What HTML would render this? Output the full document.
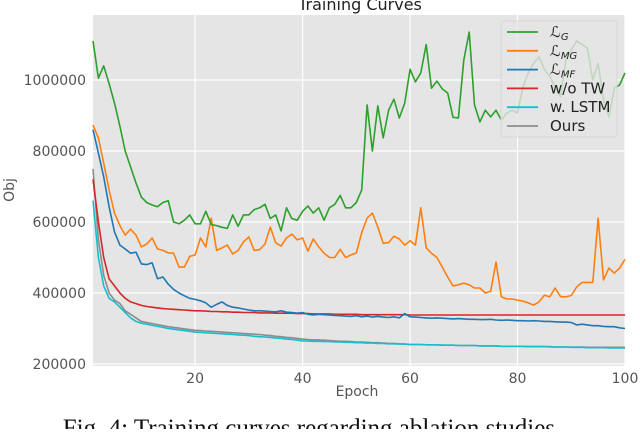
<!DOCTYPE html>
<html><head><meta charset="utf-8"><style>
body{margin:0;background:#fff;width:640px;height:429px;overflow:hidden}
svg text{font-family:"DejaVu Sans","Liberation Sans",sans-serif}
</style></head><body>
<svg id="chart" width="640" height="429">
<rect x="93" y="15" width="532" height="351" fill="#e5e5e5"/>
<g id="grid"></g><g id="series"></g><g id="axes"></g>
<text x="360" y="10" text-anchor="middle" font-size="16" fill="#222">Training Curves</text>
<text x="357" y="396" text-anchor="middle" font-size="14" fill="#555">Epoch</text>
<text x="14" y="190" text-anchor="middle" font-size="14" fill="#555" transform="rotate(-90 14 190)">Obj</text>
<text x="312" y="436" text-anchor="middle" font-size="25" fill="#111" style="font-family:'Liberation Serif',serif">Fig. 4: Training curves regarding ablation studies.</text>
<g id="legend"></g>
</svg>
<script>
const xTicks=[20,40,60,80,100];
const yTicks=[200000,400000,600000,800000,1000000];
const names=["\u2112G","\u2112MG","\u2112MF","w/o TW","w. LSTM","Ours"];
const colors=["#2ca02c","#ff7f0e","#1f77b4","#d62728","#17becf","#8c8c8c"];
const LG=[1110,1005,1040,990,935,870,800,755,710,670,655,648,643,655,660,600,595,605,620,595,595,630,593,590,585,582,620,588,620,620,635,640,650,610,620,575,640,610,605,630,645,625,640,605,640,650,675,640,640,655,690,930,800,927,837,915,946,893,935,1030,995,1020,1100,977,997,975,963,895,893,1056,1135,930,882,915,896,915,887,907,915,907,980,1020,1047,1065,1030,1010,980,953,1056,1085,1110,1100,1090,1000,1047,944,896,977,986,1020];
const LMG=[873,837,766,690,625,590,563,580,563,530,538,555,524,520,513,512,473,473,503,507,555,530,611,520,527,535,510,520,544,558,520,522,538,586,541,532,555,566,550,555,518,552,530,512,500,500,523,500,507,513,570,611,625,586,540,542,560,552,535,547,535,640,527,512,500,473,445,420,423,428,423,414,414,400,405,487,389,383,383,380,377,372,366,375,394,389,414,390,389,393,417,430,430,430,611,437,470,456,470,495];
const LMF=[860,794,727,643,572,535,524,512,515,482,480,485,440,445,425,410,400,392,385,382,378,372,360,368,375,365,360,358,355,352,350,350,349,348,347,350,346,345,343,345,340,338,340,339,338,337,336,335,334,336,333,335,332,334,332,331,333,330,342,333,332,331,330,329,330,329,328,327,328,327,326,326,325,325,326,324,323,324,323,322,322,321,322,321,320,320,319,318,318,317,310,312,310,308,308,306,305,305,302,300];
const WTW=[720,600,500,440,420,400,385,375,370,365,362,360,358,356,355,354,353,352,351,350,350,349,348,348,347,347,346,346,345,345,345,344,344,344,343,343,343,343,342,342,342,341,341,341,341,340,340,340,340,340,339,339,339,339,339,339,339,339,339,338,338,338,338,338,338,338,338,338,338,338,338,338,338,338,338,338,338,338,338,338,338,338,338,338,338,338,338,338,338,338,338,338,338,338,338,338,338,338,338,338];
const LSTM=[660,500,420,385,375,360,345,330,320,315,312,309,306,303,300,298,296,294,292,290,289,288,287,286,285,284,283,282,281,280,278,277,276,275,273,272,270,269,267,265,265,264,264,263,263,262,262,261,261,260,260,259,259,258,258,257,257,256,256,255,255,255,254,254,254,253,253,253,252,252,252,252,251,251,251,251,250,250,250,250,250,249,249,249,249,248,248,248,248,247,247,247,246,246,246,246,245,245,245,245];
const OURS=[750,550,450,400,380,370,350,340,330,320,317,314,311,308,305,303,301,299,297,295,294,293,292,291,290,289,288,287,286,285,284,283,281,280,278,277,275,274,272,270,269,268,268,267,266,265,264,264,263,262,262,261,260,260,259,258,258,257,256,255,255,255,254,254,254,253,253,253,252,252,252,252,251,251,251,251,250,250,250,250,250,249,249,249,249,249,248,248,248,248,248,248,247,247,247,247,247,247,247,247];
const seriesData=[LG,LMG,LMF,WTW,LSTM,OURS];
const NS="http://www.w3.org/2000/svg";
function xs(e){return 93+(e-1)*(532/99);}
function ys(v){return 364-(v-200000)/200000*71;}
function mk(t,a,p){const el=document.createElementNS(NS,t);for(const k in a)el.setAttribute(k,a[k]);p.appendChild(el);return el;}
const grid=document.getElementById('grid'),axes=document.getElementById('axes');
xTicks.forEach(t=>{
 const l=mk('line',{x1:xs(t),x2:xs(t),y1:15,y2:366,stroke:'#fff','stroke-width':1.2},grid);
 
 
 const tx=mk('text',{x:xs(t),y:383,'text-anchor':'middle','font-size':14,fill:'#555'},axes);
 tx.textContent=t;
 
 
});
yTicks.forEach(t=>{
 const l=mk('line',{x1:93,x2:625,y1:ys(t),y2:ys(t),stroke:'#fff','stroke-width':1.2},grid);
 
 
 const tx=mk('text',{x:86,y:ys(t)+5,'text-anchor':'end','font-size':14,fill:'#555'},axes);
 tx.textContent=t;
 
 
});
const sg=document.getElementById('series');
const snames=['line-lg','line-lmg','line-lmf','line-wo-tw','line-w-lstm','line-ours'];
[5,4,3,2,1,0].forEach(i=>{
 const d=seriesData[i].map((v,k)=>(k?'L':'M')+xs(k+1).toFixed(1)+' '+ys(v*1000).toFixed(1)).join(' ');
 const p=mk('path',{d:d,fill:'none',stroke:colors[i],'stroke-width':1.6,'stroke-linejoin':'round'},sg);
 
 
});
const lg=document.getElementById('legend');
const box=mk('rect',{x:501,y:21,width:116,height:116,rx:3,fill:'#e5e5e5','fill-opacity':0.8,stroke:'#d8d8d8'},lg);


const labs=[['ℒ','G'],['ℒ','MG'],['ℒ','MF'],['w/o TW'],['w. LSTM'],['Ours']];
labs.forEach((L,i)=>{
 const y=32+i*18.8;
 const g=mk('g',{},lg);
 
 
 mk('line',{x1:507,x2:538,y1:y,y2:y,stroke:colors[i],'stroke-width':1.8},g);
 const t=mk('text',{x:550,y:y+5,'font-size':15,fill:'#222'},g);
 if(L.length===2){
  t.setAttribute('font-style','italic');
  t.textContent=L[0];
  const s=mk('tspan',{'font-size':10,dy:3},t);s.textContent=L[1];
 } else t.textContent=L[0];
});
</script>
</body></html>
